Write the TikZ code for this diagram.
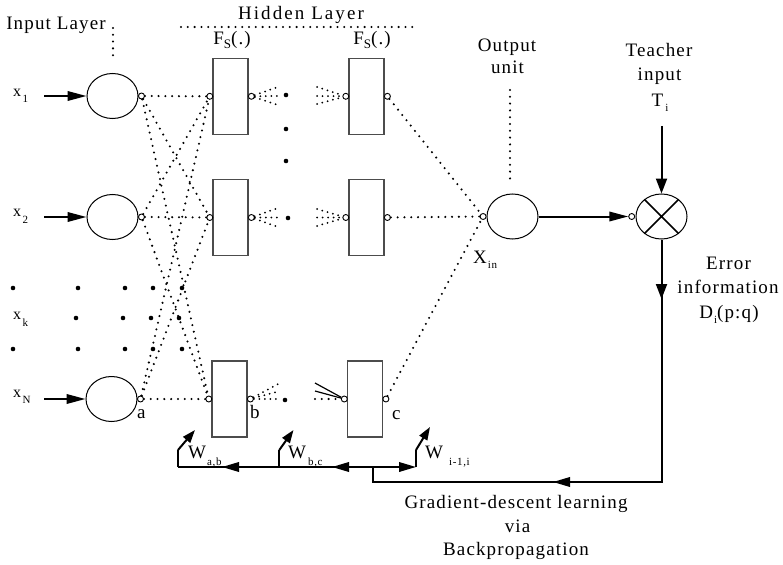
\documentclass[tikz,border=0pt]{standalone}
\usepackage{fontspec}
\setmainfont{Liberation Serif}[LetterSpace=6]
\usetikzlibrary{arrows.meta,shapes.geometric,calc}
\newcommand\lsub[3][6pt]{\hspace{#3}\raisebox{-#1}{\fontsize{11}{11}\selectfont #2}}
\begin{document}
\begin{tikzpicture}[x=1pt,y=-1pt,
  lbl/.style={font=\fontsize{19}{24}\selectfont, inner sep=0, anchor=base},
  lblw/.style={font=\fontsize{19}{24}\selectfont, inner sep=0, anchor=base west},
  xl/.style={font=\fontsize{16}{18}\selectfont, inner sep=0, anchor=base west},
  neuron/.style={ellipse, draw, line width=1pt, minimum width=51pt, minimum height=45pt, inner sep=0},
  hbox/.style={draw=black!70, line width=1.2pt, minimum width=35pt, minimum height=76pt, inner sep=0},
  port/.style={circle, draw, fill=white, line width=0.9pt, minimum size=6pt, inner sep=0},
  bigdot/.style={circle, fill, minimum size=4.6pt, inner sep=0},
  dots/.style={line width=2.3pt, line cap=round, dash pattern=on 0pt off 6.8pt},
  fan/.style={line width=2pt, line cap=round, dash pattern=on 0pt off 5.5pt},
  bline/.style={line width=2pt},
  arr/.style={line width=2pt, -{Triangle[length=19pt,width=9.5pt]}},
  varr/.style={line width=2pt, -{Triangle[length=15pt,width=11pt]}},
  marr/.style={line width=2pt, -{Triangle[length=17pt,width=9.5pt]}},
  sarr/.style={line width=2pt, -{Triangle[length=13pt,width=9pt]}}]
\fill[white] (0,0) rectangle (783,564);
\path[use as bounding box] (0,0) rectangle (783,564);

% input neurons
\node[neuron] (in1) at (112.5,96) {};
\node[neuron] (in2) at (112.5,217) {};
\node[neuron] (inN) at (111.5,399) {};
\node[port] (pi1) at ($(in1.east)+(3,0)$) {};
\node[port] (pi2) at ($(in2.east)+(3,0)$) {};
\node[port] (piN) at ($(inN.east)+(3,0)$) {};

% hidden boxes
\foreach \n/\x/\y in {11/230.5/96.3, 12/230.5/217.5, 13/229.5/399, 21/366.5/96.3, 22/366.5/217.5, 23/365/399}{
  \node[hbox] (h\n) at (\x,\y) {};
  \node[port] (l\n) at ($(h\n.west)+(-2.6,0)$) {};
  \node[port] (r\n) at ($(h\n.east)+(2.8,0)$) {};
}

% output and multiplier
\node[neuron] (out) at (512.5,216.5) {};
\node[port] (po) at ($(out.west)+(-3.4,0)$) {};
\node[neuron] (mul) at (661.5,216.5) {};
\node[port] (pm) at ($(mul.west)+(-3.8,0)$) {};
\draw[line width=1.5pt] (mul.45) -- (mul.225) (mul.135) -- (mul.315);

% dotted connections input -> hidden
\foreach \i in {1,2,N}{
  \foreach \j in {11,12,13}{
    \draw[dots] (pi\i) -- (l\j);
  }
}
% dotted connections hidden -> output
\foreach \j in {21,22,23}{ \draw[dots] (r\j) -- (po); }

% fans
\coordinate (fa1) at (278,87);  \coordinate (fa2) at (279,96);  \coordinate (fa3) at (278,105);
\coordinate (fb1) at (278,208); \coordinate (fb2) at (279,217.5); \coordinate (fb3) at (278,227);
\coordinate (fc1) at (280,383); \coordinate (fc2) at (280,391); \coordinate (fc3) at (280,399);
\coordinate (ga1) at (317,87);  \coordinate (ga2) at (317,96);  \coordinate (ga3) at (317,104);
\coordinate (gb1) at (317,209); \coordinate (gb2) at (317,217.5); \coordinate (gb3) at (317,226);
\coordinate (gc1) at (315,383); \coordinate (gc2) at (315,391); \coordinate (gc3) at (315,399);
\foreach \k in {1,2,3}{
  \draw[fan] (r11) -- (fa\k);
  \draw[fan] (r12) -- (fb\k);
  \draw[fan] (r13) -- (fc\k);
  \draw[fan] (ga\k) -- (l21);
  \draw[fan] (gb\k) -- (l22);
}
\draw[line width=1.2pt] (gc1) -- (l23);
\draw[line width=1.2pt] (gc2) -- (l23);
\draw[dots] (gc3) -- (l23);

% big dots
\foreach \x/\y [count=\k] in {286/95, 286/129, 286/161, 288/218, 285/400,
   13/288, 78/288, 125/288, 153/288, 182/288,
   76/318, 123/318, 151/318, 179/318,
   13/349, 78/349, 125/349, 153/349, 182/349}{
  \node[bigdot] (dot\k) at (\x,\y) {};
}

% input arrows
\coordinate (xa1) at (44,96);
\coordinate (xa2) at (44,217);
\coordinate (xaN) at (44,399);
\draw[arr] (xa1) -- (in1.west);
\draw[arr] (xa2) -- (in2.west);
\draw[arr] (xaN) -- (inN.west);

% output -> multiplier
\draw[arr] (out.east) -- (pm.west);
% teacher arrow
\coordinate (tt) at (661.5,126);
\draw[varr] (tt) -- (mul.north);

% error feedback path
\coordinate (ecorner) at (661.5,482);
\coordinate (ejunc) at (373,482);
\coordinate (bj) at (373,467);
\coordinate (etip) at (661.5,299);
\draw[bline] (mul.south) -- (ecorner) -- (ejunc) -- (bj);
\draw[varr] (mul.south) -- (etip);
\coordinate (gtail) at (570,482);
\coordinate (gtip) at (553,482);
\draw[marr] (gtail) -- (gtip);

% bottom weight-update line
\coordinate (wab) at (178,467);
\coordinate (wbc) at (279.3,467);
\coordinate (wii) at (416,467);
\draw[bline] (bj) -- (wab);
\draw[marr] (bj) -- (wii);
\coordinate (m1t) at (240,467); \coordinate (m1h) at (222,467);
\coordinate (m2t) at (349,467); \coordinate (m2h) at (332,467);
\draw[marr] (m1t) -- (m1h);
\draw[marr] (m2t) -- (m2h);

\coordinate (wab2) at (178,450);   \coordinate (wab3) at (195,430);
\coordinate (wbc2) at (279.3,450); \coordinate (wbc3) at (293.5,430);
\coordinate (wii2) at (416,450);   \coordinate (wii3) at (430,427);
\draw[bline] (wab) -- (wab2);
\draw[bline] (wbc) -- (wbc2);
\draw[bline] (wii) -- (wii2);
\draw[sarr] (wab2) -- (wab3);
\draw[sarr] (wbc2) -- (wbc3);
\draw[sarr] (wii2) -- (wii3);

% dotted guide lines
\coordinate (ilA) at (113,28); \coordinate (ilB) at (113,59);
\draw[dots] (ilA) -- (ilB);
\coordinate (hlA) at (181,27); \coordinate (hlB) at (418,27);
\draw[dots] (hlA) -- (hlB);
\coordinate (ouA) at (510,90); \coordinate (ouB) at (510,180);
\draw[dots] (ouA) -- (ouB);

% labels
\node[lbl] (tIL) at (56,30) {Input Layer};
\node[lbl, font=\fontsize{19}{24}\selectfont\addfontfeatures{LetterSpace=11}] (tHL) at (301,20) {Hidden Layer};
\node[lbl] (tF1) at (232,45) {F\raisebox{-4pt}{\fontsize{13}{13}\selectfont S}(.)};
\node[lbl] (tF2) at (372,45) {F\raisebox{-4pt}{\fontsize{13}{13}\selectfont S}(.)};
\node[lbl] (tO1) at (507,52) {Output};
\node[lbl] (tO2) at (507.5,74) {unit};
\node[lbl] (tT1) at (659,57) {Teacher};
\node[lbl] (tT2) at (659.5,81) {input};
\node[lbl] (tT3) at (660,107) {T\lsub[5pt]{i}{2pt}};
\node[lbl] (tE1) at (728.5,269) {Error};
\node[lbl] (tE2) at (728,293) {information};
\node[lbl] (tE3) at (729,318) {D\lsub[5pt]{i}{1pt}(p:q)};
\node[lbl] (tG1) at (516,508) {Gradient-descent learning};
\node[lbl] (tG2) at (517.5,532) {via};
\node[lbl] (tG3) at (516,555) {Backpropagation};

\node[lblw] (tXin) at (473,263) {X\lsub[5pt]{in}{1pt}};
\node[lblw] (tWab) at (188,458) {W\lsub[7pt]{a,b}{1pt}};
\node[lblw] (tWbc) at (288,458) {W\lsub[7pt]{b,c}{2pt}};
\node[lblw] (tWii) at (425,458) {W\lsub[7pt]{i-1,i}{6pt}};
\node[lblw] (ta) at (137,418) {a};
\node[lblw] (tb) at (250,418) {b};
\node[lblw] (tc) at (392,419) {c};

\node[xl] (x1) at (13,97) {x\lsub{1}{1.5pt}};
\node[xl] (x2) at (13,216) {x\lsub[7pt]{2}{1.5pt}};
\node[xl] (xk) at (13,319) {x\lsub[7pt]{k}{1.5pt}};
\node[xl] (xN) at (13,397) {x\lsub[6pt]{N}{1.5pt}};
\end{tikzpicture}
\end{document}
